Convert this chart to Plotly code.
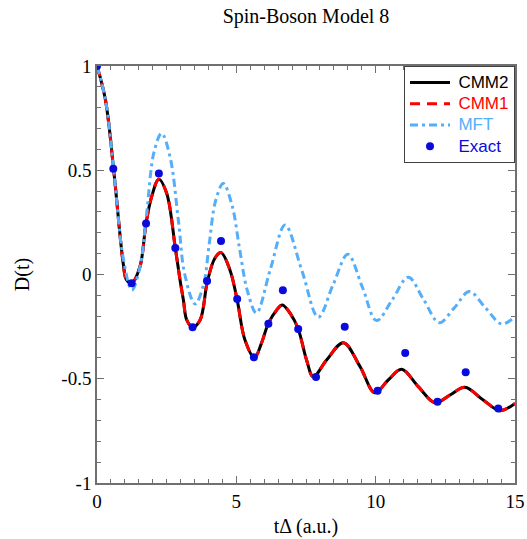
import plotly.graph_objects as go

# CMM2 / CMM1 curves
cmm_x = [0, 0.3, 0.6, 0.94, 1.06, 1.245, 1.54, 1.76, 1.96, 2.22, 2.50, 2.81, 2.98, 3.10, 3.22,
         3.43, 3.70, 3.96, 4.23, 4.45, 4.77, 5.03, 5.31, 5.65, 5.90, 6.15, 6.45, 6.65, 6.95, 7.22,
         7.52, 7.76, 8.24, 8.84, 9.44, 9.97, 10.45, 10.93, 11.53, 12.13, 12.67, 13.2, 13.86,
         14.46, 15.0]
cmm2_y = [1.0, 0.84, 0.5, 0.054, -0.026, -0.042, 0.037, 0.245, 0.373, 0.457, 0.39, 0.127, -0.026, -0.122, -0.218,
          -0.253, -0.218, -0.034, 0.078, 0.105, 0.022, -0.122, -0.314, -0.399, -0.33, -0.234, -0.17, -0.146, -0.19, -0.261,
          -0.41, -0.49, -0.41, -0.327, -0.442, -0.567, -0.506, -0.455, -0.538, -0.615, -0.578, -0.541, -0.602,
          -0.653, -0.618]
cmm1_y = [1.0, 0.84, 0.5, 0.054, -0.026, -0.042, 0.037, 0.245, 0.373, 0.457, 0.39, 0.127, -0.026, -0.122, -0.218,
          -0.253, -0.218, -0.034, 0.078, 0.105, 0.022, -0.122, -0.314, -0.399, -0.33, -0.234, -0.17, -0.146, -0.19, -0.261,
          -0.41, -0.49, -0.41, -0.327, -0.442, -0.567, -0.506, -0.455, -0.538, -0.615, -0.578, -0.541, -0.602,
          -0.653, -0.618]

# MFT curve
mft_x = [0, 0.3, 0.6, 0.94, 1.25, 1.55, 1.78, 2.05, 2.32, 2.62, 2.92, 3.15, 3.52, 3.82, 4.03, 4.25, 4.53,
         4.85, 5.12, 5.40, 5.72, 6.23, 6.75, 7.35, 7.94, 8.47, 9.0, 9.52, 10.03, 10.6, 11.17,
         11.72, 12.28, 12.82, 13.36, 13.94, 14.52, 15.0]
mft_y = [1.0, 0.84, 0.5, 0.08, -0.075, 0.04, 0.29, 0.59, 0.677, 0.565, 0.26, 0.0, -0.141, -0.05, 0.15, 0.35, 0.437,
         0.33, 0.12, -0.08, -0.185, 0.03, 0.237, 0.02, -0.205, -0.05, 0.097, -0.06, -0.221, -0.12, -0.013,
         -0.12, -0.231, -0.16, -0.082, -0.16, -0.237, -0.202]

# Exact points
exact_x = [0, 0.585, 1.245, 1.76, 2.22, 2.81, 3.43, 3.95, 4.45, 5.03, 5.63, 6.15, 6.67, 7.22,
           7.86, 8.89, 10.07, 11.06, 12.22, 13.23, 14.40]
exact_y = [1.0, 0.507, -0.042, 0.245, 0.485, 0.127, -0.253, -0.031, 0.161, -0.118, -0.397, -0.236, -0.076, -0.261,
           -0.492, -0.250, -0.557, -0.377, -0.610, -0.469, -0.643]

y_tickvals = [-1, -0.5, 0, 0.5, 1]
y_ticktext = ["-1", "-0.5", "0", "0.5", "1"]
x_tickvals = [0, 5, 10, 15]
x_ticktext = ["0", "5", "10", "15"]

C_CMM2, C_CMM1, C_MFT, C_EXACT = "black", "#FF0000", "#55AEF8", "#0A0ADC"


def lname(text, color):
    return f"<span style='color:{color};font-size:17px'>\u2009{text}</span>"


fig = go.Figure()
fig.add_trace(go.Scatter(x=cmm_x, y=cmm2_y, mode="lines", name=lname("CMM2", C_CMM2),
                         line=dict(color=C_CMM2, width=3, shape="spline")))
fig.add_trace(go.Scatter(x=cmm_x, y=cmm1_y, mode="lines", name=lname("CMM1", C_CMM1),
                         line=dict(color=C_CMM1, width=3, dash="10px,7px", shape="spline")))
fig.add_trace(go.Scatter(x=mft_x, y=mft_y, mode="lines", name=lname("MFT", C_MFT),
                         line=dict(color=C_MFT, width=3, dash="8px,4px,3px,4px", shape="spline")))
fig.add_trace(go.Scatter(x=exact_x, y=exact_y, mode="markers", name=lname("Exact", C_EXACT),
                         marker=dict(color=C_EXACT, size=8)))

axis_common = dict(showline=True, linecolor="#707070", linewidth=1.5, mirror="allticks",
                   ticks="inside", ticklen=7, tickcolor="#707070", tickwidth=1.2,
                   showgrid=False, zeroline=False, automargin=False,
                   tickfont=dict(family="Liberation Serif", size=19, color="black"))

fig.update_xaxes(range=[0, 15], tickvals=x_tickvals, ticktext=x_ticktext,
                 minor=dict(dtick=0.5, tick0=0, ticks="inside", ticklen=4, tickcolor="#707070"),
                 title=dict(text="tΔ (a.u.)", font=dict(family="Liberation Serif", size=20, color="black"),
                            standoff=8),
                 **axis_common)
fig.update_yaxes(range=[-1, 1], tickvals=y_tickvals, ticktext=y_ticktext,
                 minor=dict(dtick=0.1, tick0=0, ticks="inside", ticklen=4, tickcolor="#707070"),
                 title=dict(text="D(t)", font=dict(family="Liberation Serif", size=20, color="black"),
                            standoff=26),
                 **axis_common)

fig.update_layout(
    width=527, height=539,
    margin=dict(l=97, r=12, t=66, b=56),
    paper_bgcolor="white", plot_bgcolor="white",
    title=dict(text="Spin-Boson Model 8", x=0.5, xref="paper", xanchor="center",
               y=1 - 16 / 539, yref="container", yanchor="middle",
               font=dict(family="Liberation Serif", size=20, color="black")),
    legend=dict(x=1, y=1, xanchor="right", yanchor="top", bgcolor="white",
                bordercolor="#404040", borderwidth=1, itemwidth=40,
                font=dict(family="Liberation Sans", size=14)),
    showlegend=True,
)

fig.write_html("out.html")
